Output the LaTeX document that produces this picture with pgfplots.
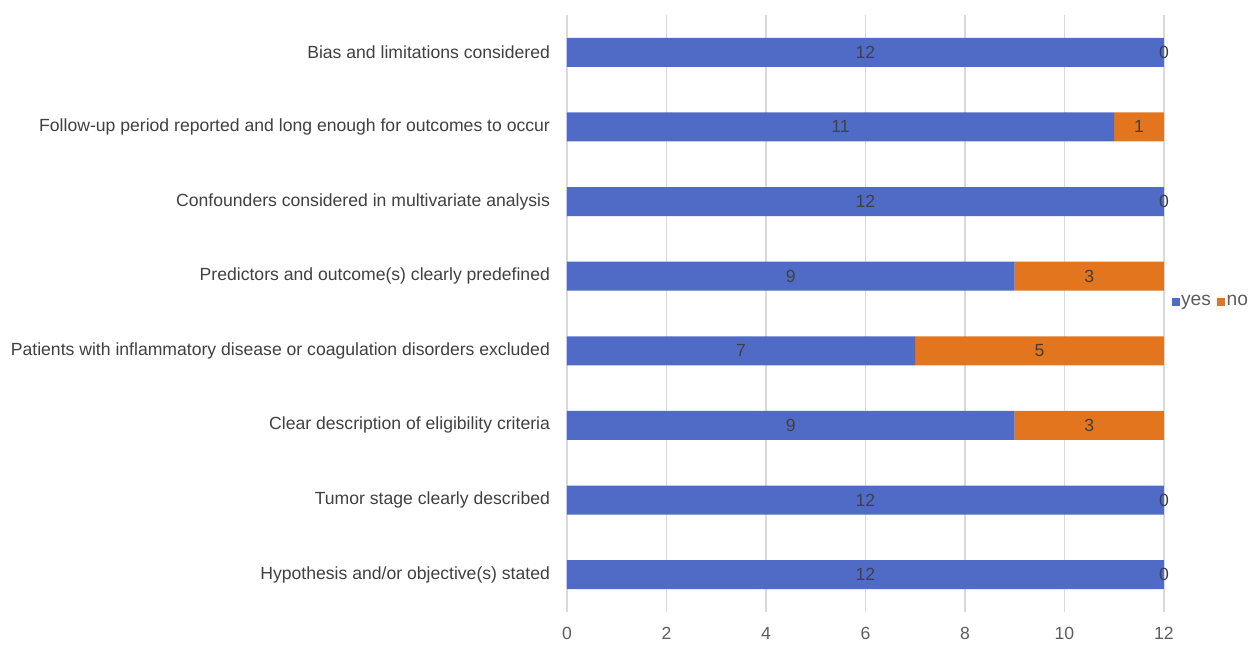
\documentclass[border=0pt]{standalone}
\usepackage{fontspec}
\setmainfont{Liberation Sans}
\usepackage{pgfplots}
\pgfplotsset{compat=1.18}
\usepackage{pgfplotstable}

\definecolor{yesblue}{RGB}{80,107,198}
\definecolor{noorange}{RGB}{226,117,30}
\definecolor{txt}{RGB}{64,64,64}
\definecolor{gridc}{RGB}{217,217,217}

% position of each label: middle of its segment
\pgfplotstableread{
x    y lab
6    0 12
12   0 0
6    1 12
12   1 0
4.5  2 9
10.5 2 3
3.5  3 7
9.5  3 5
4.5  4 9
10.5 4 3
6    5 12
12   5 0
5.5  6 11
11.5 6 1
6    7 12
12   7 0
}\labels

\pgfplotsset{
  base/.style={
    width=298.5pt, height=298.5pt, scale only axis,
    xmin=0, xmax=12, ymin=-0.5, ymax=7.5,
    font=\fontsize{8.8}{10}\selectfont,
  }
}

\begin{document}
\begin{tikzpicture}
\begin{axis}[
    base,
    xbar stacked,
    bar width=14.5pt,
    axis line style={draw=none},
    xtick={0,2,...,12},
    xmajorgrids,
    major grid style={gridc, line width=0.6pt},
    ytick={0,...,7},
    yticklabels={
      {Hypothesis and/or objective(s) stated},
      {Tumor stage clearly described},
      {Clear description of eligibility criteria\ },
      {Patients with inflammatory disease or coagulation disorders excluded\ },
      {Predictors and outcome(s) clearly predefined},
      {Confounders considered in multivariate analysis},
      {Follow-up period reported and long enough for outcomes to occur},
      {Bias and limitations considered}
    },
    tick style={draw=none},
    yticklabel style={text=txt, xshift=-5pt},
    xticklabel style={text=txt!85, yshift=-4pt},
    /pgf/number format/assume math mode=true,
    legend style={at={(1.012,0.52)}, anchor=west, draw=none, fill=none,
      legend columns=2, inner sep=0pt, text=txt!85,
      font=\fontsize{9.6}{10}\selectfont,
      nodes={inner sep=0.8pt},
      /tikz/every even column/.append style={column sep=2.2pt}},
]
\addplot[fill=yesblue, draw=none,
  legend image code/.code={\fill[yesblue] (0pt,-2pt) rectangle (4pt,2pt);}]
  coordinates {(12,0) (12,1) (9,2) (7,3) (9,4) (12,5) (11,6) (12,7)};
\addlegendentry{yes}
\addplot[fill=noorange, draw=none,
  legend image code/.code={\fill[noorange] (0pt,-2pt) rectangle (4pt,2pt);}]
  coordinates {(0,0) (0,1) (3,2) (5,3) (3,4) (0,5) (1,6) (0,7)};
\addlegendentry{no}
\coordinate (O) at (rel axis cs:0,0);
\end{axis}
\begin{axis}[base, hide axis, clip=false]
\addplot[draw=none, mark=none, nodes near coords, point meta=explicit symbolic,
  every node near coord/.style={anchor=center, text=txt}]
  table[x=x, y=y, meta=lab] {\labels};
\end{axis}
\pgfresetboundingbox
\path (O) ++(-283.5pt,-16pt) rectangle ++(624.5pt,322pt);
\end{tikzpicture}
\end{document}
